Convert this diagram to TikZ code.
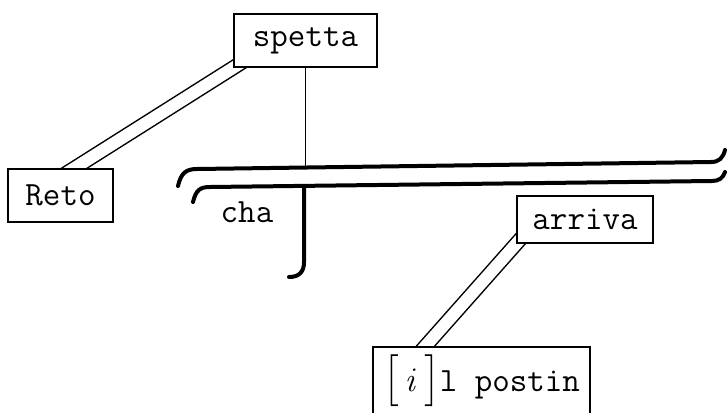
\documentclass[tikz,border=0pt]{standalone}
\usepackage{amsmath}
\usepackage{graphicx}
\usepackage{tikz}
\usetikzlibrary{backgrounds}
\usetikzlibrary{calc}
\tikzset{every picture/.style={line width=0.75pt}}
\tikzset{box/.style={draw,fill=white,line width=0.9pt,inner sep=0pt,font=\fontsize{17}{19}\selectfont\ttfamily},
  lbl/.style={font=\fontsize{17}{19}\selectfont\ttfamily},
  dbl/.style={double,double distance=6pt,line width=0.75pt,shorten <=-6pt,shorten >=-6pt},
  bar/.style={line width=2pt,line cap=round}}
\newcommand{\tallbrack}[1]{\scalebox{1.1}[1.25]{$\bigl#1$}}

\begin{document}
\begin{tikzpicture}[x=0.5pt,y=-0.5pt]
\useasboundingbox (0,0) rectangle (727,412);
\node[box,minimum width=71.5pt,minimum height=26.5pt] (spetta) at (305.5,40.5) {spetta};
\node[box,minimum width=52.5pt,minimum height=26.5pt] (reto) at (60.5,195.5) {Reto};
\node[box,minimum width=68pt,minimum height=23.5pt] (arriva) at (585,219.5) {arriva};
\node[box,minimum width=108.5pt,minimum height=34pt] (postin) at (481.5,381) {\tallbrack[\,$\mathit{i}$\,\tallbrack]l postin};
\node[lbl] (cha) at (247,212) {cha};
\coordinate (joint) at (306,167.5);
\coordinate (stem) at (304,186);
% the two bars
\draw[bar] (178,186) .. controls (181,173) and (186,169) .. (197,169) -- (711,162) .. controls (719,162) and (723,158) .. (725,150);
\draw[bar] (193,202) .. controls (196,190) and (200,187) .. (210,187) -- (712,181) .. controls (719,181) and (723,178) .. (725,172);
\draw[bar] (stem) -- (304,262) .. controls (304,272) and (299,277) .. (289,277);
\draw (spetta.south) -- (spetta.south |- joint);
\begin{scope}[on background layer]
\draw[dbl] (spetta.south west) -- ($(reto.north)+(14,0)$);
\draw[dbl] (arriva.south west) -- ($(postin.north)+(-56,0)$);
\end{scope}
\end{tikzpicture}
\end{document}
